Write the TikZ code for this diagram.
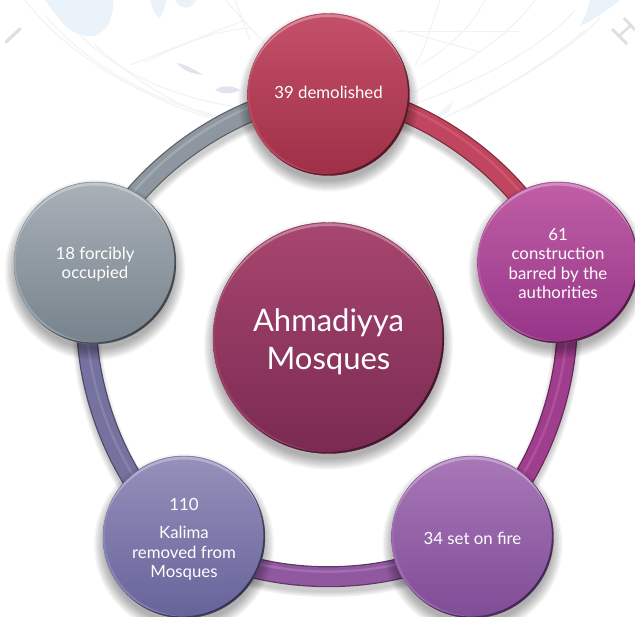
\documentclass[tikz,border=0pt]{standalone}
\usepackage{fontspec}
\setmainfont{Lato}
\pgfdeclarelayer{mapback}
\pgfdeclarelayer{ringback}
\pgfdeclarelayer{bubshadow}
\pgfsetlayers{mapback,ringback,bubshadow,main}
\definecolor{mapblue}{HTML}{EAF2FA}
\definecolor{mapline}{HTML}{F2F2F2}
\definecolor{mapmark}{HTML}{E0E0E0}
\definecolor{mapvio}{HTML}{E3E3EF}
\definecolor{ctrT}{HTML}{A8466F}\definecolor{ctrB}{HTML}{7A2A52}
\definecolor{redT}{HTML}{C5506A}\definecolor{redB}{HTML}{9E2F47}
\definecolor{magT}{HTML}{C05FA6}\definecolor{magB}{HTML}{963488}
\definecolor{purT}{HTML}{A878B8}\definecolor{purB}{HTML}{7F4C96}
\definecolor{bluT}{HTML}{9690BB}\definecolor{bluB}{HTML}{66639A}
\definecolor{gryT}{HTML}{A9B1B8}\definecolor{gryB}{HTML}{76828C}
\definecolor{redM}{HTML}{C0465F}\definecolor{redL}{HTML}{DE6A80}
\definecolor{magM}{HTML}{A03E8E}\definecolor{magL}{HTML}{C468B0}
\definecolor{purM}{HTML}{90589F}\definecolor{purL}{HTML}{B88ACB}
\definecolor{bluM}{HTML}{76729F}\definecolor{bluL}{HTML}{9A96C2}
\definecolor{gryM}{HTML}{8E979F}\definecolor{gryL}{HTML}{B8C0C6}
\tikzset{
  bubble/.style={circle,inner sep=0pt,text=white,align=center,font=\fontsize{16.8}{19.5}\selectfont},
  bigbubble/.style={bubble,font=\fontsize{31}{38}\selectfont},
  mapcurve/.style={draw=mapline,line width=1pt},
}
% name, x, y, radius, top, bottom, text, style
\newcommand\bub[8]{%
  \node[#8,minimum size=#4*2pt,top color=#5,bottom color=#6,draw=#6,line width=.4pt] (#1) at (#2,#3) {#7};
  \begin{pgfonlayer}{bubshadow}
    \foreach \dr in {9,7.5,6,4.5,3,1.5,0,-1.5}{
      \fill[black,opacity=.045] ([yshift=-7pt]#1.center) circle[radius=#4pt+\dr pt];
    }
  \end{pgfonlayer}
  \begin{scope}
    \clip (#1.center) circle[radius=#4pt];
    \fill[white,opacity=.3,even odd rule] ([yshift=-.8pt]#1.center) circle[radius=#4pt]
       ([yshift=-4pt]#1.center) circle[radius=#4pt+.5pt];
    \fill[#5,opacity=.6,even odd rule] (#1.center) circle[radius=#4pt+1pt]
       ([xshift=1.8pt,yshift=1.8pt]#1.center) circle[radius=#4pt];
    \fill[black,opacity=.5,even odd rule] (#1.center) circle[radius=#4pt+1pt]
       ([xshift=-1.6pt,yshift=1.6pt]#1.center) circle[radius=#4pt];
  \end{scope}
}
% from, to, main, light
\newcommand\seg[4]{%
  \begin{pgfonlayer}{ringback}
    \foreach \w in {29,26,23,20}{
      \draw[black,opacity=.05,line width=\w pt,transform canvas={yshift=-6pt}]
        (#1.center) to[bend left=36,looseness=.8] (#2.center);
    }
    \draw[#3!65!black,line width=21pt] (#1.center) to[bend left=36,looseness=.8] (#2.center);
    \draw[#3,line width=18.5pt] (#1.center) to[bend left=36,looseness=.8] (#2.center);
    \draw[#4,line width=2.5pt,opacity=.45,transform canvas={yshift=5pt}] (#1.center) to[bend left=36,looseness=.8] (#2.center);
  \end{pgfonlayer}
}
\begin{document}
\begin{tikzpicture}[x=1pt,y=-1pt]
\useasboundingbox (0,0) rectangle (635,617);
\begin{pgfonlayer}{mapback}
  \fill[white] (0,0) rectangle (635,617);
  % faint globe
  \fill[mapblue] (45,0) .. controls (58,18) and (68,35) .. (88,36) .. controls (105,37) and (114,20) .. (113,0) -- cycle;
  \fill[mapblue] (175,0) .. controls (178,6) and (183,9) .. (190,7) .. controls (194,4) and (196,2) .. (196,0) -- cycle;
  \fill[mapblue] (150,0) -- (166,0) -- (164,10) -- (160,18) -- (155,14) -- cycle;
  \fill[mapblue] (590,0) .. controls (588,10) and (583,20) .. (580,26) .. controls (590,22) and (608,10) .. (620,0) -- cycle;
  \fill[mapblue!70!white] (432,122) .. controls (440,112) and (448,104) .. (452,102) .. controls (452,110) and (446,116) .. (432,122) -- cycle;
  \fill[mapvio] (177,63) .. controls (185,64) and (195,70) .. (203,75) .. controls (192,74) and (182,70) .. (177,63) -- cycle;
  \fill[mapvio] (215,90) .. controls (222,85) and (232,85) .. (240,90) .. controls (232,95) and (225,92) .. (222,93) -- cycle;
  \path[mapcurve] (25,0) .. controls (70,60) and (160,110) .. (250,128);
  \path[mapcurve] (45,15) .. controls (90,70) and (170,110) .. (240,120);
  \path[mapcurve] (80,35) .. controls (120,75) and (180,100) .. (245,108);
  \path[mapcurve] (95,45) .. controls (140,85) and (190,115) .. (235,122);
  \path[mapcurve] (130,65) -- (245,20);
  \path[mapcurve] (145,62) .. controls (190,40) and (220,30) .. (250,28);
  \path[mapcurve] (225,0) -- (280,60);
  \path[mapcurve] (235,0) -- (250,40);
  \path[mapcurve] (395,32) -- (520,32);
  \path[mapcurve] (400,30) -- (480,52);
  \path[mapcurve] (440,0) .. controls (430,30) and (425,50) .. (415,65);
  \path[mapcurve] (485,0) .. controls (470,30) and (445,50) .. (420,65);
  \path[mapcurve] (535,0) .. controls (510,35) and (470,60) .. (415,92);
  \path[mapcurve] (575,10) .. controls (540,50) and (480,80) .. (412,105);
  \path[mapcurve] (600,18) .. controls (560,60) and (490,95) .. (440,120);
  \path[mapcurve] (585,30) .. controls (545,65) and (490,95) .. (465,110);
  \draw[mapmark,line width=3.2pt,line cap=round] (6,42) -- (20,29);
  \draw[mapmark,line width=3pt] (612,29) -- (627,44);
  \draw[mapmark,line width=2.5pt] (619,36) -- (630,26);
  \draw[mapmark,line width=3pt] (624,18) -- (635,30);
\end{pgfonlayer}

\bub{ctr}{328.5}{338}{115.5}{ctrT}{ctrB}{\rule{0pt}{31pt}Ahmadiyya\\Mosques}{bigbubble}
\bub{n1}{328.5}{94.5}{81}{redT}{redB}{39 demolished\rule[-4pt]{0pt}{0pt}}{bubble}
\bub{n2}{558}{262.5}{80.5}{magT}{magB}{\rule{0pt}{14.5pt}61\\construction\\barred by the\\authorities}{bubble}
\bub{n3}{472.5}{537}{81}{purT}{purB}{\rule{0pt}{14.5pt}34 set on fire}{bubble}
\bub{n4}{184}{537}{81}{bluT}{bluB}{\rule{0pt}{16.5pt}110\\[9pt]Kalima\\removed from\\Mosques}{bubble}
\bub{n5}{95}{263}{81}{gryT}{gryB}{\rule{0pt}{14.5pt}18 forcibly\\occupied}{bubble}
\seg{n1}{n2}{redM}{redL}
\seg{n2}{n3}{magM}{magL}
\seg{n3}{n4}{purM}{purL}
\seg{n4}{n5}{bluM}{bluL}
\seg{n5}{n1}{gryM}{gryL}
\end{tikzpicture}
\end{document}
